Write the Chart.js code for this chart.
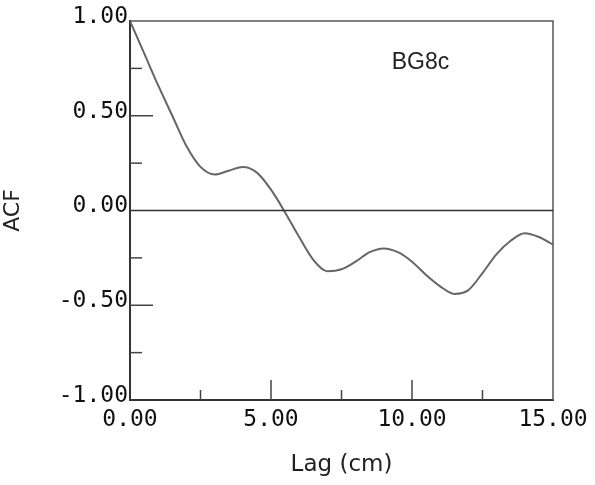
<!DOCTYPE html>
<html>
<head>
<meta charset="utf-8">
<script src="https://cdn.jsdelivr.net/npm/chart.js@4/dist/chart.umd.min.js"></script>
<style>
  html, body { margin: 0; padding: 0; background: #fff; }
  #wrap { width: 595px; height: 485px; }
</style>
</head>
<body>
<div id="wrap"><canvas id="acfChart" width="595" height="485"></canvas></div>
<script>
// ACF の読み取り値
const lagValues = [0, 0.5, 1, 1.5, 2, 2.5, 3, 3.5, 4, 4.5, 5, 5.5, 6, 6.5, 7, 7.5,
                   8, 8.5, 9, 9.5, 10, 10.5, 11, 11.5, 12, 12.5, 13, 13.5, 14, 14.5, 15];
const acfValues = [1.0, 0.83, 0.66, 0.50, 0.34, 0.23, 0.19, 0.21, 0.23, 0.20, 0.11, -0.01,
                   -0.14, -0.26, -0.32, -0.31, -0.27, -0.22, -0.20, -0.22, -0.27, -0.34,
                   -0.40, -0.44, -0.42, -0.33, -0.23, -0.16, -0.12, -0.14, -0.18];
const sampleLabel = 'BG8c';
const xTitle = 'Lag (cm)';
const yTitle = 'ACF';

const points = lagValues.map((x, i) => ({ x: x, y: acfValues[i] }));

// 枠・ゼロ線・内向きの目盛りを描く
const framePlugin = {
    id: 'frame',
    afterDatasetsDraw(chart) {
        const ctx = chart.ctx;
        const area = chart.chartArea;
        const xs = chart.scales.x;
        const ys = chart.scales.y;
        ctx.save();
        ctx.strokeStyle = '#555';
        ctx.lineWidth = 1.5;
        ctx.beginPath();
        ctx.moveTo(area.left, area.top);
        ctx.lineTo(area.right, area.top);
        ctx.lineTo(area.right, area.bottom);
        ctx.stroke();

        // ゼロ線
        const y0 = ys.getPixelForValue(0);
        ctx.strokeStyle = '#333';
        ctx.beginPath();
        ctx.moveTo(area.left, y0);
        ctx.lineTo(area.right, y0);
        ctx.stroke();

        // y 目盛り
        ctx.strokeStyle = '#444';
        ctx.lineWidth = 1.5;
        ys.ticks.forEach(t => {
            const v = t.value;
            if (Math.abs(v) > 0.99 || Math.abs(v) < 0.01) return;
            const len = Math.abs(v * 2 - Math.round(v * 2)) < 0.01 ? 23 : 12;
            const py = ys.getPixelForValue(v);
            ctx.beginPath();
            ctx.moveTo(area.left, py);
            ctx.lineTo(area.left + len, py);
            ctx.stroke();
        });
        // x 目盛り
        xs.ticks.forEach(t => {
            const v = t.value;
            if (v < 0.01 || v > 14.99) return;
            const len = Math.abs(v / 5 - Math.round(v / 5)) < 0.01 ? 20 : 10;
            const px = xs.getPixelForValue(v);
            ctx.beginPath();
            ctx.moveTo(px, area.bottom);
            ctx.lineTo(px, area.bottom - len);
            ctx.stroke();
        });

        // サンプル名
        ctx.fillStyle = '#222';
        ctx.font = '23px "Liberation Sans", Arial, sans-serif';
        ctx.textAlign = 'center';
        ctx.textBaseline = 'middle';
        ctx.fillText(sampleLabel, xs.getPixelForValue(10.3), ys.getPixelForValue(0.78));
        ctx.restore();
    }
};

const tickFont = { family: '"DejaVu Sans Mono", monospace', size: 23 };
const titleFont = { family: '"DejaVu Sans", sans-serif', size: 23 };

new Chart(document.getElementById('acfChart'), {
    type: 'scatter',
    data: {
        datasets: [{
            data: points,
            showLine: true,
            borderColor: '#666',
            borderWidth: 2,
            pointRadius: 0,
            cubicInterpolationMode: 'monotone',
            fill: false
        }]
    },
    options: {
        responsive: false,
        animation: false,
        events: [],
        layout: { padding: { top: 21, right: 42, left: 0, bottom: 0 } },
        plugins: {
            legend: { display: false },
            tooltip: { enabled: false }
        },
        scales: {
            x: {
                type: 'linear',
                min: 0,
                max: 15,
                afterFit: s => { s.height = 85; },
                grid: { display: false, drawTicks: false },
                border: { display: true, color: '#333', width: 2 },
                ticks: {
                    stepSize: 2.5,
                    padding: 6,
                    color: '#111',
                    font: tickFont,
                    maxRotation: 0,
                    autoSkip: false,
                    callback: v => (Math.abs(v / 5 - Math.round(v / 5)) < 0.01 ? v.toFixed(2) : '')
                },
                title: {
                    display: true,
                    text: xTitle,
                    color: '#222',
                    font: titleFont,
                    padding: { top: 0, bottom: 6 }
                }
            },
            y: {
                min: -1,
                max: 1,
                afterFit: s => { s.width = 130; },
                grid: { display: false, drawTicks: false },
                border: { display: true, color: '#333', width: 2 },
                ticks: {
                    stepSize: 0.25,
                    padding: 2,
                    labelOffset: -4,
                    color: '#111',
                    font: tickFont,
                    autoSkip: false,
                    callback: v => (Math.abs(v * 2 - Math.round(v * 2)) < 0.01 ? v.toFixed(2) : '')
                },
                title: {
                    display: true,
                    text: yTitle,
                    color: '#222',
                    font: { family: '"DejaVu Sans", sans-serif', size: 22 },
                    padding: { top: 0, bottom: 0 }
                }
            }
        }
    },
    plugins: [framePlugin]
});
</script>
</body>
</html>
